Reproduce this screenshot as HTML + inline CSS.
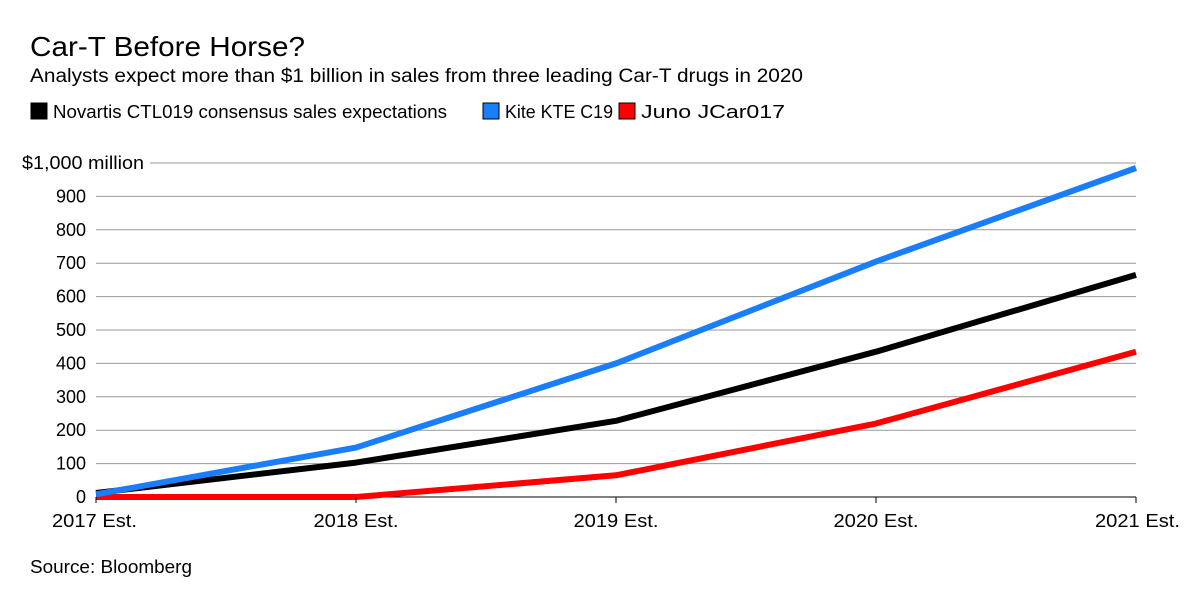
<!DOCTYPE html>
<html><head><meta charset="utf-8"><style>
body{margin:0;background:#fff;width:1200px;height:611px;overflow:hidden;font-family:"Liberation Sans",sans-serif}
</style></head><body>
<svg width="1200" height="611" xmlns="http://www.w3.org/2000/svg" font-family="Liberation Sans, sans-serif">
<text x="30" y="56" font-size="28" textLength="275" lengthAdjust="spacingAndGlyphs" fill="#000">Car-T Before Horse?</text>
<text x="30" y="82" font-size="19" textLength="773" lengthAdjust="spacingAndGlyphs" fill="#000">Analysts expect more than $1 billion in sales from three leading Car-T drugs in 2020</text>
<g id="legend"></g>
<g id="grid"></g>
<g id="series"></g>
<g id="xaxis"></g>
<text x="30" y="573" font-size="18" textLength="162" lengthAdjust="spacingAndGlyphs" fill="#000">Source: Bloomberg</text>
</svg>
<script>
const categories=["2017 Est.","2018 Est.","2019 Est.","2020 Est.","2021 Est."];
const yTicks=[0,100,200,300,400,500,600,700,800,900,1000];
const seriesNames=["Novartis CTL019 consensus sales expectations","Kite KTE C19","Juno JCar017"];
const novartis=[12,103,228,435,665];
const kite=[8,148,400,705,985];
const juno=[0,0,65,220,435];
const colors=["#000000","#1a7efb","#ff0000"];
const NS="http://www.w3.org/2000/svg";
const x0=96,x1=1136,y0=497,y1=163;
const xs=i=>x0+i*(x1-x0)/(categories.length-1);
const ys=v=>y0-v*(y0-y1)/1000;
function mk(t,a,p){const e=document.createElementNS(NS,t);for(const k in a)e.setAttribute(k,a[k]);p.appendChild(e);return e;}
const grid=document.getElementById('grid');
yTicks.forEach(v=>{
 const top=v===1000;
 const l=mk('line',{x1:top?150:x0,x2:x1,y1:ys(v),y2:ys(v),stroke:v===0?'#000':'#999','stroke-width':1},grid);
 
 
 const a={x:top?22:86,y:ys(v)+6,'font-size':18,'text-anchor':top?'start':'end'};
 if(top){a.textLength=122;a.lengthAdjust='spacingAndGlyphs';}
 const t=mk('text',a,grid);
 t.textContent=top?'$1,000 million':String(v);
 
 
});
const xa=document.getElementById('xaxis');
categories.forEach((c,i)=>{
 const tk=mk('line',{x1:xs(i),x2:xs(i),y1:y0,y2:y0+6,stroke:'#000'},xa);
 
 
 const anchor=i===0?'start':(i===categories.length-1?'end':'middle');
 const t=mk('text',{x:i===0?52:(i===categories.length-1?1180:xs(i)),y:527,'font-size':18,textLength:85,lengthAdjust:'spacingAndGlyphs','text-anchor':anchor},xa);
 t.textContent=c;
 
 
});
const sg=document.getElementById('series');
[novartis,juno,kite].forEach(d=>{
 const idx=d===novartis?0:(d===kite?1:2);
 const p=mk('polyline',{points:d.map((v,i)=>xs(i)+','+ys(v)).join(' '),fill:'none',stroke:colors[idx],'stroke-width':6,'stroke-linejoin':'round'},sg);
 
 
});
const lg=document.getElementById('legend');
const lx=[30,482,618];
const lw=[394,108,144];
seriesNames.forEach((n,i)=>{
 const r=mk('rect',{x:lx[i]+1,y:103,width:16,height:16,fill:colors[i],stroke:'#000','stroke-width':1},lg);
 
 
 const t=mk('text',{x:lx[i]+23,y:118,'font-size':18,textLength:lw[i],lengthAdjust:'spacingAndGlyphs'},lg);
 t.textContent=n;
 
 
});
</script>
</body></html>
